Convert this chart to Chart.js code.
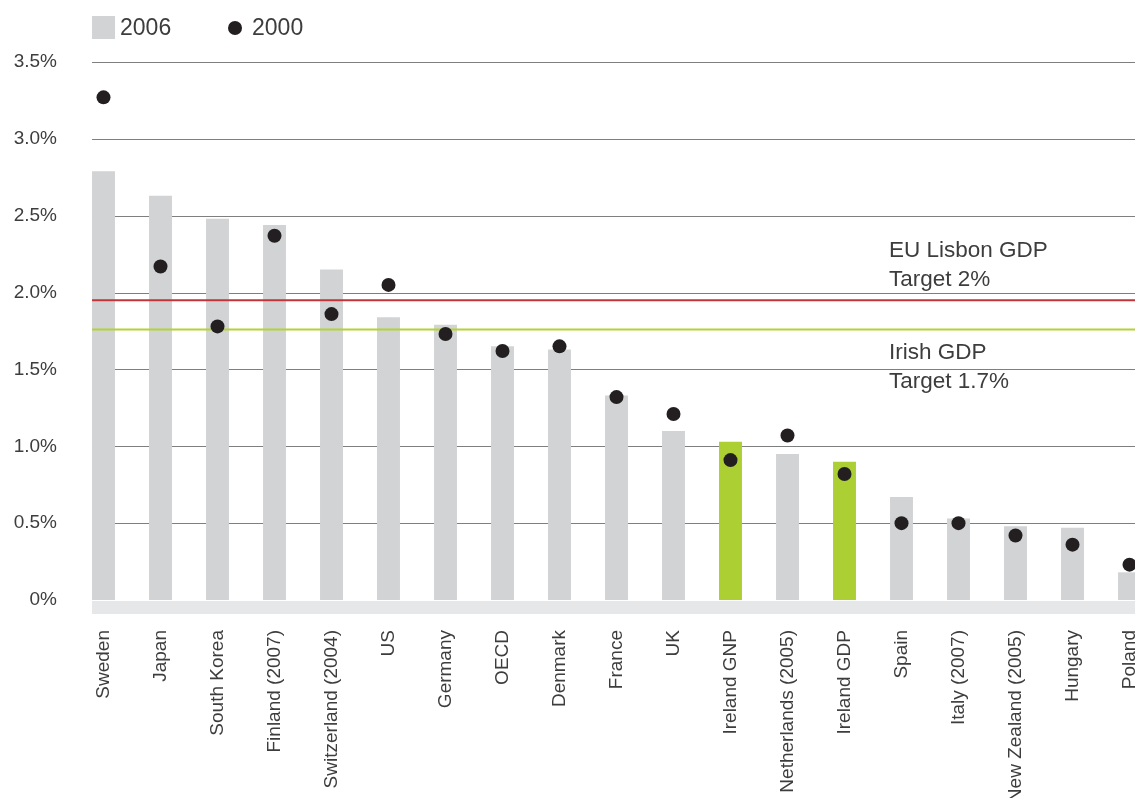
<!DOCTYPE html>
<html>
<head>
<meta charset="utf-8">
<script src="https://cdn.jsdelivr.net/npm/chart.js@4"></script>
<style>
html,body{margin:0;padding:0;overflow:hidden;background:#fff;width:1135px;height:798px}
#wrap{position:absolute;left:0;top:0;width:1165px;height:860px}
</style>
</head>
<body>
<div id="wrap"><canvas id="c" width="1165" height="860"></canvas></div>
<script>
const categories = ['Sweden','Japan','South Korea','Finland (2007)','Switzerland (2004)','US','Germany','OECD','Denmark','France','UK','Ireland GNP','Netherlands (2005)','Ireland GDP','Spain','Italy (2007)','New Zealand (2005)','Hungary','Poland'];
const values2006 = [2.79,2.63,2.48,2.44,2.15,1.84,1.79,1.65,1.63,1.33,1.10,1.03,0.95,0.90,0.67,0.53,0.48,0.47,0.18];
const values2000 = [3.27,2.17,1.78,2.37,1.86,2.05,1.73,1.62,1.65,1.32,1.21,0.91,1.07,0.82,0.50,0.50,0.42,0.36,0.23];
const highlighted = ['Ireland GNP','Ireland GDP'];
const seriesNames = ['2006','2000'];
const yTickValues = [0,0.5,1.0,1.5,2.0,2.5,3.0,3.5];
const targetValues = [1.95,1.76];
const targetLabels = [['EU Lisbon GDP','Target 2%'],['Irish GDP','Target 1.7%']];

const FONT = '"Liberation Sans", Arial, Helvetica, sans-serif';
const TEXT = '#3d3d3d';
const GREY = '#d1d3d4';
const GREEN = '#acd033';
const DOT = '#231f20';
const targetColors = ['#c0353a','#b3d335'];

function firstBarLeft(chart){
  const b = chart.getDatasetMeta(0).data[0];
  return b.x - b.width/2;
}

const decor = {
  id:'decor',
  beforeDatasetsDraw(chart){
    const {ctx, scales:{y}} = chart;
    const left = firstBarLeft(chart);
    const right = chart.width;
    ctx.save();
    ctx.strokeStyle = '#7f7f7f';
    ctx.lineWidth = 1.2;
    yTickValues.forEach(v=>{
      if (v<=0) return;
      const py = Math.round(y.getPixelForValue(v))+0.5;
      ctx.beginPath(); ctx.moveTo(left,py); ctx.lineTo(right,py); ctx.stroke();
    });
    const y0 = y.getPixelForValue(0);
    ctx.fillStyle = '#e6e7e8';
    ctx.fillRect(left, y0+1, right-left, 13);
    ctx.restore();
  },
  afterDatasetDraw(chart,args){
    if (args.index!==0) return;
    const {ctx, scales:{y}} = chart;
    const left = firstBarLeft(chart);
    ctx.save();
    ctx.lineWidth = 2;
    targetValues.forEach((v,i)=>{
      const py = y.getPixelForValue(v);
      ctx.strokeStyle = targetColors[i];
      ctx.beginPath(); ctx.moveTo(left,py); ctx.lineTo(chart.width,py); ctx.stroke();
    });
    ctx.restore();
  },
  afterDraw(chart){
    const {ctx, scales:{x,y}} = chart;
    const left = firstBarLeft(chart);
    ctx.save();
    // annotations
    const b = chart.getDatasetMeta(0).data[14];
    const ax = b.x - b.width/2 - 1;
    ctx.font = '22.5px '+FONT;
    ctx.fillStyle = TEXT;
    ctx.textAlign = 'left';
    ctx.textBaseline = 'alphabetic';
    const p0 = y.getPixelForValue(targetValues[0]);
    ctx.fillText(targetLabels[0][0], ax, p0-43);
    ctx.fillText(targetLabels[0][1], ax, p0-14);
    const p1 = y.getPixelForValue(targetValues[1]);
    ctx.fillText(targetLabels[1][0], ax, p1+30);
    ctx.fillText(targetLabels[1][1], ax, p1+59);
    // legend
    const ly = 28;
    ctx.fillStyle = GREY;
    ctx.fillRect(left, ly-12, 23, 23);
    ctx.fillStyle = TEXT;
    ctx.font = '23px '+FONT;
    ctx.textBaseline = 'middle';
    ctx.fillText(seriesNames[0], left+28, ly+1);
    ctx.fillStyle = DOT;
    ctx.beginPath(); ctx.arc(left+143, ly, 7, 0, Math.PI*2); ctx.fill();
    ctx.fillStyle = TEXT;
    ctx.fillText(seriesNames[1], left+160, ly+1);
    ctx.restore();
  }
};

new Chart(document.getElementById('c'), {
  data:{
    labels: categories,
    datasets:[
      {type:'bar', label:seriesNames[0], data: values2006,
       backgroundColor: categories.map(c=>highlighted.includes(c)?GREEN:GREY),
       barPercentage:0.4025, categoryPercentage:1, order:2},
      {type:'line', label:seriesNames[1], data: values2000, showLine:false,
       pointRadius:7, pointHoverRadius:7, pointBackgroundColor:DOT, pointBorderWidth:0, borderColor:DOT, order:1}
    ]
  },
  options:{
    responsive:false,
    animation:false,
    layout:{padding:{top:62,left:0,right:4,bottom:0}},
    plugins:{legend:{display:false}, tooltip:{enabled:false}},
    scales:{
      x:{
        grid:{display:false, drawTicks:false}, border:{display:false},
        ticks:{font:{family:FONT,size:19}, color:TEXT, minRotation:90, maxRotation:90, autoSkip:false, padding:30},
        afterFit(s){ s.height = 260; s.paddingLeft = 0; s.paddingRight = 0; }
      },
      y:{
        min:0, max:3.5,
        grid:{display:false, drawTicks:false}, border:{display:false},
        afterBuildTicks(s){ s.ticks = yTickValues.map(v=>({value:v})); },
        ticks:{font:{family:FONT,size:19}, color:TEXT, padding:18,
          callback:v=> v===0 ? '0%' : v.toFixed(1)+'%'},
        afterFit(s){ s.width = 75; }
      }
    }
  },
  plugins:[decor]
});
</script>
</body>
</html>
